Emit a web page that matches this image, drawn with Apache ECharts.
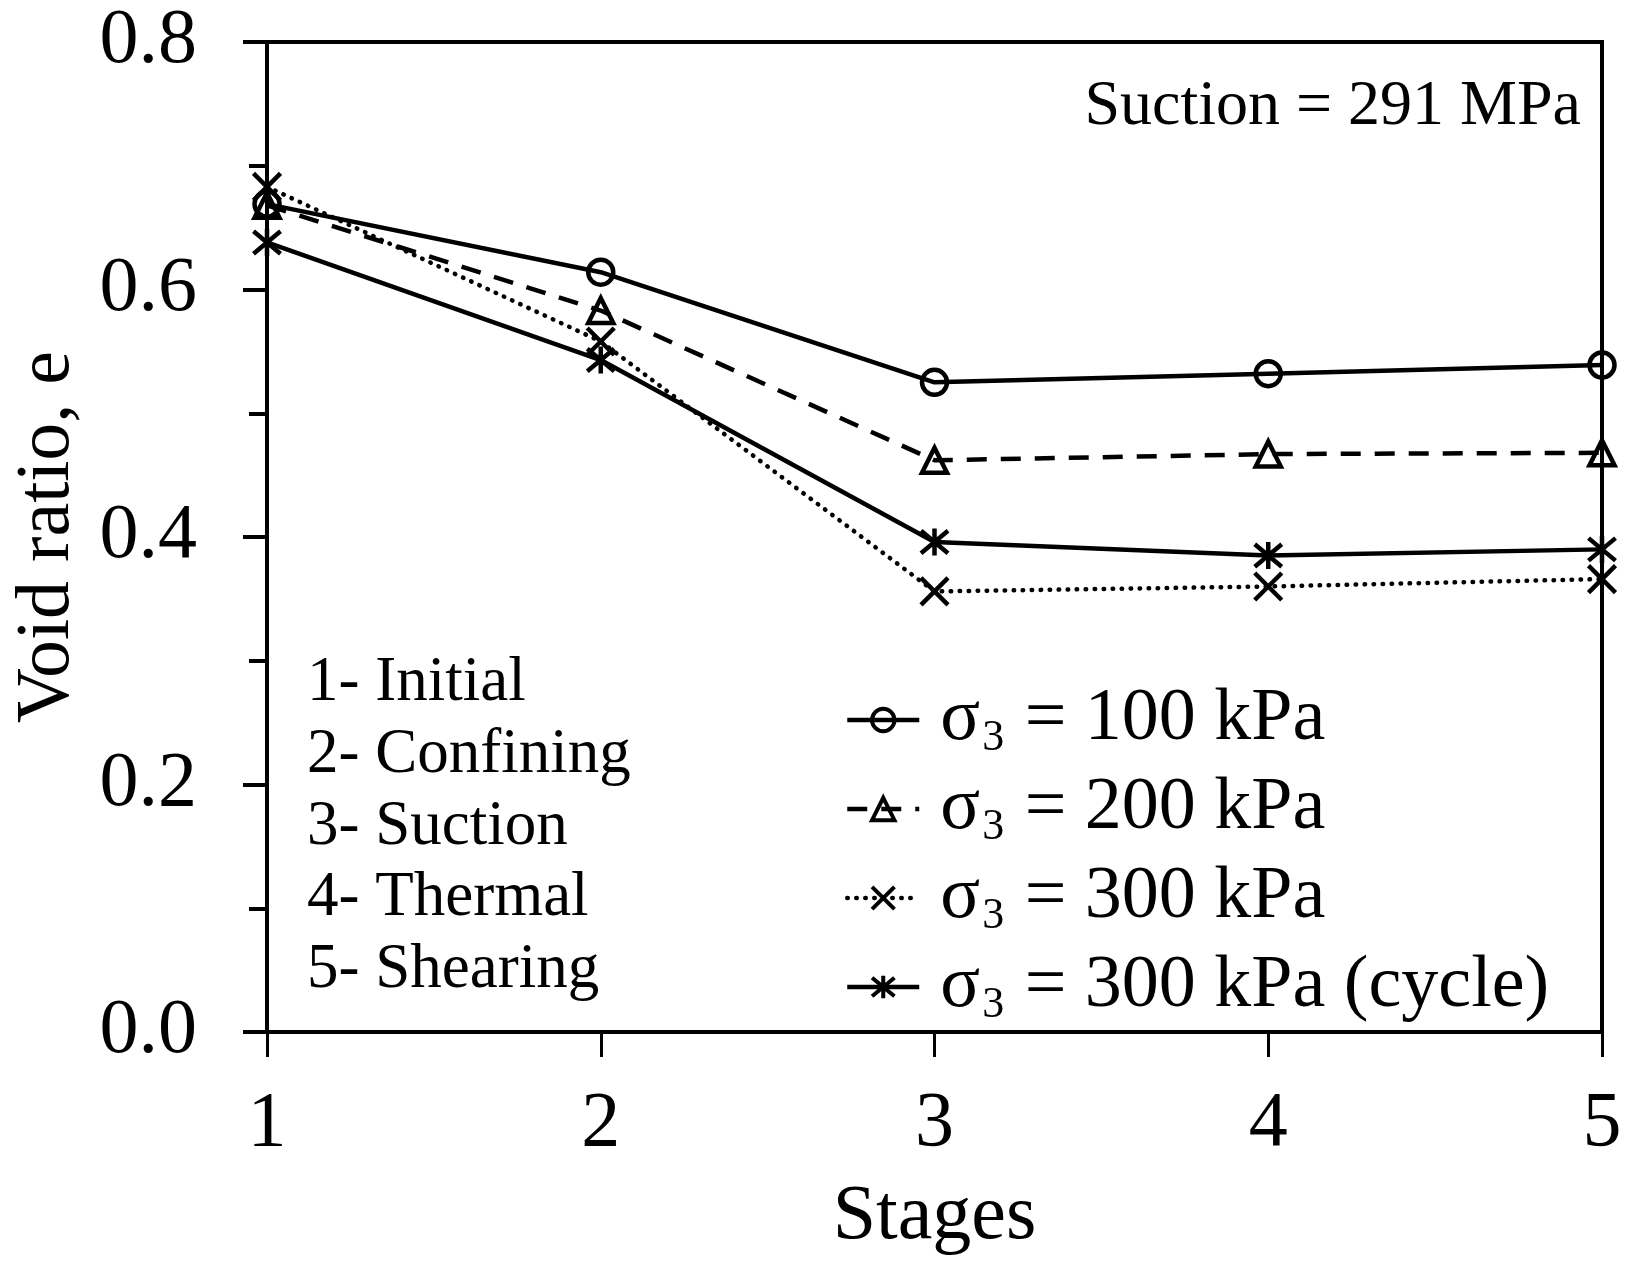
<!DOCTYPE html>
<html>
<head>
<meta charset="utf-8">
<script src="https://cdn.jsdelivr.net/npm/echarts@6/dist/echarts.min.js"></script>
<style>
  html, body { margin: 0; padding: 0; background: #fff; }
  #chart { width: 1626px; height: 1264px; }
</style>
</head>
<body>
<div id="chart"></div>
<script>
// Test stages (x) and void ratio (y) for each confining pressure
const stages = [1, 2, 3, 4, 5];
const stageNames = ['1- Initial', '2- Confining', '3- Suction', '4- Thermal', '5- Shearing'];
const seriesNames = ['100 kPa', '200 kPa', '300 kPa', '300 kPa (cycle)'];
const e100 = [0.669, 0.614, 0.525, 0.532, 0.539];
const e200 = [0.668, 0.583, 0.462, 0.467, 0.468];
const e300 = [0.683, 0.558, 0.356, 0.360, 0.366];
const e300cycle = [0.638, 0.543, 0.396, 0.385, 0.390];
const yTicks = [0.0, 0.2, 0.4, 0.6, 0.8];

const FONT = '"Liberation Serif", "Times New Roman", serif';

function pairs(vals) {
  return stages.map((s, i) => [s, vals[i]]);
}

const crossPath = 'path://M0,0L10,10M10,0L0,10';
const starPath = 'path://M0,0L10,10M10,0L0,10M5,-1L5,11';

function lineSeries(name, vals, symbol, size, lineType, cap) {
  return {
    name: name,
    type: 'line',
    data: pairs(vals),
    symbol: symbol,
    symbolSize: size,
    showAllSymbol: true,
    lineStyle: { color: '#000', width: 4.5, type: lineType, cap: cap || 'butt' },
    itemStyle: { color: 'rgba(0,0,0,0)', borderColor: '#000', borderWidth: 4.5 },
    emphasis: { disabled: true },
    animation: false,
    z: 3
  };
}

const chart = echarts.init(document.getElementById('chart'), null, { renderer: 'canvas' });

chart.setOption({
  backgroundColor: '#fff',
  animation: false,
  grid: {
    left: 267, right: 24, top: 42, bottom: 232,
    show: true, borderColor: '#000', borderWidth: 4, backgroundColor: 'transparent'
  },
  xAxis: {
    type: 'value',
    min: 1, max: 5, interval: 1,
    name: 'Stages',
    nameLocation: 'middle',
    nameGap: 147,
    nameTextStyle: { fontFamily: FONT, fontSize: 78, color: '#000' },
    axisLine: { show: true, onZero: false, lineStyle: { color: '#000', width: 4 } },
    axisTick: { show: true, inside: false, length: 25, lineStyle: { color: '#000', width: 3 } },
    axisLabel: { margin: 54, fontFamily: FONT, fontSize: 78, color: '#000' },
    splitLine: { show: false }
  },
  yAxis: {
    type: 'value',
    min: 0, max: 0.8, interval: 0.2,
    name: 'Void ratio, e',
    nameLocation: 'middle',
    nameGap: 181,
    nameTextStyle: { fontFamily: FONT, fontSize: 76, color: '#000' },
    axisLine: { show: true, onZero: false, lineStyle: { color: '#000', width: 4 } },
    axisTick: { show: true, inside: false, length: 24, lineStyle: { color: '#000', width: 4 } },
    minorTick: { show: true, splitNumber: 2, length: 18, lineStyle: { color: '#000', width: 4 } },
    axisLabel: {
      margin: 70, fontFamily: FONT, fontSize: 78, color: '#000',
      formatter: v => yTicks.find(t => Math.abs(t - v) < 1e-9).toFixed(1)
    },
    splitLine: { show: false }
  },
  legend: {
    left: 840,
    top: 675,
    orient: 'vertical',
    itemWidth: 72,
    itemHeight: 28,
    itemGap: 9,
    selectedMode: false,
    inactiveColor: '#000',
    lineStyle: { width: 4.5 },
    itemStyle: { borderWidth: 4 },
    formatter: name => '{g|σ}{s|3}{t| = ' + name + '}',
    textStyle: {
      color: '#000',
      fontFamily: FONT,
      rich: {
        g: { fontFamily: FONT, fontSize: 74, lineHeight: 80, color: '#000', padding: [0, 0, 0, 16] },
        s: { fontFamily: FONT, fontSize: 44, lineHeight: 44, color: '#000', padding: [36, 2, 0, 2] },
        t: { fontFamily: FONT, fontSize: 74, lineHeight: 80, color: '#000' }
      }
    },
    data: seriesNames
  },
  graphic: [
    {
      type: 'text',
      left: 307,
      top: 648,
      style: {
        text: stageNames.join('\n'),
        fontFamily: FONT,
        fontSize: 63,
        lineHeight: 71.7,
        fill: '#000'
      },
      z: 10
    },
    {
      type: 'text',
      right: 45,
      top: 75,
      style: {
        text: 'Suction = 291 MPa',
        fontFamily: FONT,
        fontSize: 64,
        lineHeight: 64,
        fill: '#000'
      },
      z: 10
    }
  ],
  series: [
    lineSeries(seriesNames[0], e100, 'circle', 25, 'solid'),
    lineSeries(seriesNames[1], e200, 'triangle', 25, [20, 14]),
    lineSeries(seriesNames[2], e300, crossPath, 27, [0.5, 8.5], 'round'),
    lineSeries(seriesNames[3], e300cycle, starPath, 27, 'solid')
  ]
});
</script>
</body>
</html>
